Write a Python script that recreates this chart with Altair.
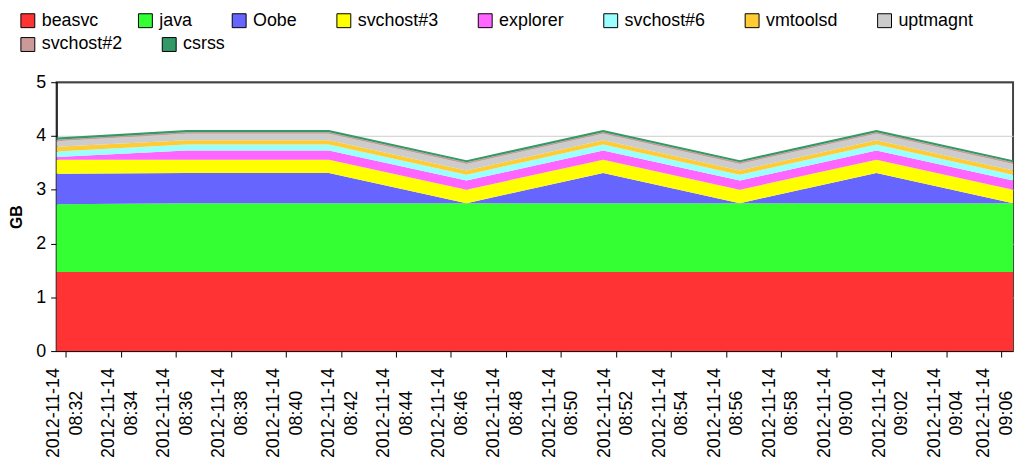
import altair as alt
import pandas as pd

# ---- data ----
times = [
    "2012-11-14T08:31:40", "2012-11-14T08:36:24", "2012-11-14T08:41:34",
    "2012-11-14T08:46:34", "2012-11-14T08:51:32", "2012-11-14T08:56:30",
    "2012-11-14T09:01:28", "2012-11-14T09:06:26",
]
names = ["beasvc", "java", "Oobe", "svchost#3", "explorer", "svchost#6",
         "vmtoolsd", "uptmagnt", "svchost#2", "csrss"]
colors = ["#FF3333", "#33FF33", "#6666FF", "#FFFF00", "#FF66FF", "#99FFFF",
          "#FFCC33", "#CCCCCC", "#CC9999", "#339966"]

beasvc = [1.47, 1.47, 1.47, 1.47, 1.47, 1.47, 1.47, 1.47]
java = [1.26, 1.28, 1.28, 1.28, 1.28, 1.28, 1.28, 1.28]
oobe = [0.57, 0.56, 0.56, 0.00, 0.56, 0.00, 0.56, 0.00]
svchost3 = [0.26, 0.25, 0.25, 0.25, 0.25, 0.25, 0.25, 0.25]
explorer = [0.05, 0.17, 0.17, 0.17, 0.17, 0.17, 0.17, 0.17]
svchost6 = [0.10, 0.11, 0.11, 0.11, 0.11, 0.11, 0.11, 0.11]
vmtoolsd = [0.09, 0.08, 0.08, 0.08, 0.08, 0.08, 0.08, 0.08]
uptmagnt = [0.10, 0.12, 0.12, 0.12, 0.12, 0.12, 0.12, 0.12]
svchost2 = [0.03, 0.03, 0.03, 0.03, 0.03, 0.03, 0.03, 0.03]
csrss = [0.04, 0.04, 0.04, 0.04, 0.04, 0.04, 0.04, 0.04]

tick_labels = ["08:32", "08:34", "08:36", "08:38", "08:40", "08:42", "08:44",
               "08:46", "08:48", "08:50", "08:52", "08:54", "08:56", "08:58",
               "09:00", "09:02", "09:04", "09:06"]
y_ticks = [0, 1, 2, 3, 4, 5]

series = [beasvc, java, oobe, svchost3, explorer, svchost6, vmtoolsd,
          uptmagnt, svchost2, csrss]

rows = []
for i, (n, vals) in enumerate(zip(names, series)):
    for t, v in zip(times, vals):
        rows.append({"time": t, "process": n, "idx": i, "GB": v})
df = pd.DataFrame(rows)

tick_values = [
    alt.DateTime(year=2012, month=11, date=14,
                 hours=int(s.split(":")[0]), minutes=int(s.split(":")[1]))
    for s in tick_labels
]

FONT = "Liberation Sans"
FS = 18
N1 = 8  # entries in the first legend row

last_h, last_m = (int(p) for p in tick_labels[-1].split(":"))
last_test = f"hours(datum.value) === {last_h} && minutes(datum.value) === {last_m}"

x_enc = alt.X("time:T",
              scale=alt.Scale(nice=False, padding=0),
              axis=alt.Axis(values=tick_values, title=None, grid=False,
                            labelExpr="[timeFormat(datum.value, '%Y-%m-%d'), timeFormat(datum.value, '%H:%M')]",
                            labelAngle=270, labelAlign="center", labelBaseline="middle",
                            labelPadding=56, labelLineHeight=23,
                            labelOffset={"condition": {"test": last_test, "value": -18},
                                         "value": -12},
                            labelFontSize=FS, labelFont=FONT, labelColor="black",
                            tickSize=6, tickColor="black", domainColor="black",
                            labelOverlap=False, labelFlush=False))
y_enc = alt.Y("y1:Q",
              scale=alt.Scale(domain=[0, 5], nice=False),
              axis=alt.Axis(values=y_ticks, title="GB", grid=True,
                            gridColor={"condition": {"test": "datum.value === 5", "value": "#444444"},
                                       "value": "#CCCCCC"},
                            labelFontSize=FS, labelFont=FONT, labelColor="black",
                            labelPadding=5, tickSize=6, tickColor="black",
                            domainColor="black", titleFont=FONT, titleFontSize=16,
                            titleFontWeight="bold", titleColor="black", titlePadding=11))


def legend(ly, ncol):
    return alt.Legend(title=None, orient="none", legendX=-38, legendY=ly,
                      direction="horizontal", columns=ncol,
                      symbolType="square", symbolSize=196,
                      symbolStrokeColor="black", symbolStrokeWidth=1,
                      labelFontSize=FS, labelFont=FONT, labelColor="black",
                      labelOffset=5, columnPadding=37.5, rowPadding=8)


base = alt.Chart(df).transform_stack(
    stack="GB", groupby=["time"], as_=["y0", "y1"],
    sort=[alt.SortField("idx", order="ascending")],
)

layer1 = base.transform_filter(alt.datum.idx < N1).mark_area(
    interpolate="linear", opacity=1).encode(
    x=x_enc, y=y_enc, y2="y0:Q",
    color=alt.Color("process:N", scale=alt.Scale(domain=names[:N1], range=colors[:N1]),
                    legend=legend(-71, N1)),
    detail="idx:Q",
)
layer2 = base.transform_filter(alt.datum.idx >= N1).mark_area(
    interpolate="linear", opacity=1).encode(
    x=x_enc, y=y_enc, y2="y0:Q",
    color=alt.Color("process:N", scale=alt.Scale(domain=names[N1:], range=colors[N1:]),
                    legend=legend(-47, len(names) - N1)),
    detail="idx:Q",
)

chart = alt.layer(layer1, layer2).resolve_scale(color="independent").properties(
    width=964, height=271, autosize="none",
    padding={"left": 49, "top": 73, "right": 5, "bottom": 112},
).configure_view(stroke="#444444", strokeWidth=2)

chart.save("out.html", embed_options={"renderer": "svg", "actions": False})
